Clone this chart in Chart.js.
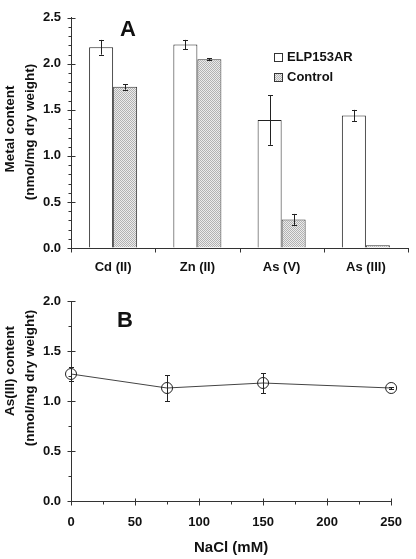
<!DOCTYPE html>
<html><head><meta charset="utf-8">
<script src="https://cdn.jsdelivr.net/npm/chart.js@4/dist/chart.umd.min.js"></script>
<style>
html,body{margin:0;padding:0;background:#fff;width:416px;height:559px;overflow:hidden}
canvas{position:absolute;left:0}
#a{top:0}#b{top:280px}
</style></head>
<body>
<canvas id="a" width="416" height="280"></canvas>
<canvas id="b" width="416" height="279"></canvas>
<script>
// ---- data ----
const metals = ['Cd (II)', 'Zn (II)', 'As (V)', 'As (III)'];
const elpValues = [2.18, 2.21, 1.39, 1.44];
const elpErrors = [0.08, 0.05, 0.27, 0.06];
const controlValues = [1.75, 2.05, 0.31, 0.03];
const controlErrors = [0.03, 0.01, 0.06, 0];
const naclConc = [0, 75, 150, 250];
const asValues = [1.27, 1.13, 1.18, 1.13];
const asErrors = [0.07, 0.13, 0.10, 0.01];

const FONT = "'Liberation Sans', Arial, sans-serif";
const INK = '#111';

function makePattern(ctx) {
  const c = document.createElement('canvas'); c.width = 2; c.height = 2;
  const x = c.getContext('2d');
  x.fillStyle = '#ececec'; x.fillRect(0, 0, 2, 2);
  x.fillStyle = '#b2b2b2'; x.fillRect(0, 0, 1, 1); x.fillRect(1, 1, 1, 1);
  return ctx.createPattern(c, 'repeat');
}

// error bars plugin
const errorBars = {
  id: 'errorBars',
  afterDatasetsDraw(chart) {
    const ctx = chart.ctx; const ys = chart.scales.y;
    ctx.save(); ctx.strokeStyle = '#222'; ctx.lineWidth = 1;
    chart.data.datasets.forEach((ds, di) => {
      if (!ds.errors) return;
      const meta = chart.getDatasetMeta(di);
      meta.data.forEach((el, i) => {
        const v = typeof ds.data[i] === 'object' ? ds.data[i].y : ds.data[i];
        const e = ds.errors[i]; if (!e) return;
        const x = Math.round(el.x) + 0.5;
        const y1 = ys.getPixelForValue(v + e), y2 = ys.getPixelForValue(v - e);
        ctx.beginPath();
        ctx.moveTo(x, y1); ctx.lineTo(x, y2);
        ctx.moveTo(x - 2.5, Math.round(y1) + 0.5); ctx.lineTo(x + 2.5, Math.round(y1) + 0.5);
        ctx.moveTo(x - 2.5, Math.round(y2) + 0.5); ctx.lineTo(x + 2.5, Math.round(y2) + 0.5);
        ctx.stroke();
      });
    });
    ctx.restore();
  }
};

// axis tick marks + decorations
const decor = {
  id: 'decor',
  afterDraw(chart, args, o) {
    const ctx = chart.ctx; const ys = chart.scales.y; const xs = chart.scales.x;
    const ca = chart.chartArea;
    ctx.save(); ctx.strokeStyle = '#333'; ctx.lineWidth = 1;
    const ax = Math.round(ca.left) + 0.5, ay = Math.round(ca.bottom) + 0.5;
    ctx.beginPath();
    for (let v = ys.min; v <= ys.max + 1e-9; v += o.yMinor) {
      const y = Math.round(ys.getPixelForValue(v)) + 0.5;
      const major = Math.abs(v / o.yMajor - Math.round(v / o.yMajor)) < 1e-6;
      if (major) { ctx.moveTo(ax - 4, y); ctx.lineTo(ax + 4, y); }
      else { ctx.moveTo(ax - 3, y); ctx.lineTo(ax, y); }
    }
    if (o.category) {
      const n = chart.data.labels.length;
      for (let i = 0; i <= n; i++) {
        const x = Math.round(xs.getPixelForValue(i - 0.5)) + 0.5;
        ctx.moveTo(x, ay); ctx.lineTo(x, ay + 4);
      }
    } else {
      for (let v = xs.min; v <= xs.max + 1e-9; v += o.xMinor) {
        const x = Math.round(xs.getPixelForValue(v)) + 0.5;
        const major = Math.abs(v / o.xMajor - Math.round(v / o.xMajor)) < 1e-6;
        if (major) { ctx.moveTo(x, ay - 3); ctx.lineTo(x, ay + 4); }
        else { ctx.moveTo(x, ay); ctx.lineTo(x, ay + 3); }
      }
    }
    ctx.stroke();
    ctx.fillStyle = INK; ctx.textAlign = 'center'; ctx.textBaseline = 'middle';
    ctx.font = 'bold 13.5px ' + FONT;
    o.yTitle.forEach((t) => {
      ctx.save(); ctx.translate(t.x, t.y); ctx.rotate(-Math.PI / 2);
      ctx.fillText(t.text, 0, 0); ctx.restore();
    });
    ctx.font = 'bold 22px ' + FONT;
    ctx.fillText(o.letter.text, o.letter.x, o.letter.y);
    if (o.legend) {
      ctx.font = 'bold 13px ' + FONT; ctx.textAlign = 'left';
      chart.data.datasets.forEach((ds, i) => {
        const bx = o.legend.x, by = o.legend.y + i * o.legend.gap;
        ctx.fillStyle = ds.backgroundColor; ctx.fillRect(bx, by, 8, 8);
        ctx.strokeStyle = '#333'; ctx.strokeRect(bx + 0.5, by + 0.5, 8, 8);
        ctx.fillStyle = INK; ctx.fillText(ds.label, bx + 13, by + 4.5);
      });
    }
    ctx.restore();
  }
};

const tickFont = { family: FONT, size: 13, weight: 'bold' };

// ---- Chart A ----
const ctxA = document.getElementById('a').getContext('2d');
const pat = makePattern(ctxA);
new Chart(ctxA, {
  type: 'bar',
  data: {
    labels: metals,
    datasets: [
      { label: 'ELP153AR', data: elpValues, errors: elpErrors, backgroundColor: '#ffffff', borderColor: '#222', borderWidth: 1 },
      { label: 'Control', data: controlValues, errors: controlErrors, backgroundColor: pat, borderColor: '#333', borderWidth: 1 }
    ]
  },
  options: {
    responsive: false, animation: false, devicePixelRatio: 1,
    layout: { padding: { top: 13, right: 8, bottom: 0, left: 0 } },
    datasets: { bar: { categoryPercentage: 0.57, barPercentage: 1.0 } },
    plugins: {
      legend: { display: false }, tooltip: { enabled: false },
      decor: {
        yMinor: 0.1, yMajor: 0.5, category: true,
        yTitle: [{ text: 'Metal content', x: 10, y: 129 }, { text: '(nmol/mg dry weight)', x: 30, y: 132 }],
        letter: { text: 'A', x: 128, y: 30 },
        legend: { x: 274, y: 53, gap: 20 }
      }
    },
    scales: {
      x: {
        grid: { display: true, drawOnChartArea: false, drawTicks: false },
        border: { display: true, color: '#333', width: 1 },
        ticks: { font: tickFont, color: INK, padding: 12, maxRotation: 0 },
        afterFit(s) { s.height = 32; }
      },
      y: {
        min: 0, max: 2.5,
        grid: { display: true, drawOnChartArea: false, drawTicks: false },
        border: { display: true, color: '#333', width: 1 },
        ticks: { stepSize: 0.5, font: tickFont, color: INK, padding: 10, callback: (v) => Number(v).toFixed(1) },
        afterFit(s) { s.width = 71; }
      }
    }
  },
  plugins: [errorBars, decor]
});

// ---- Chart B ----
const ctxB = document.getElementById('b').getContext('2d');
new Chart(ctxB, {
  type: 'line',
  data: {
    datasets: [{
      label: 'As(III)',
      data: naclConc.map((c, i) => ({ x: c, y: asValues[i] })),
      errors: asErrors,
      borderColor: '#444', borderWidth: 1,
      backgroundColor: 'rgba(0,0,0,0)',
      pointRadius: 5.5, pointBorderWidth: 1, pointBorderColor: '#222', pointBackgroundColor: 'rgba(0,0,0,0)',
      tension: 0, clip: false
    }]
  },
  options: {
    responsive: false, animation: false, devicePixelRatio: 1,
    layout: { padding: { top: 21, right: 24, bottom: 0, left: 0 } },
    plugins: {
      legend: { display: false }, tooltip: { enabled: false },
      decor: {
        yMinor: 0.25, yMajor: 0.5, xMinor: 25, xMajor: 50,
        yTitle: [{ text: 'As(III) content', x: 10, y: 91 }, { text: '(nmol/mg dry weight)', x: 30, y: 98 }],
        letter: { text: 'B', x: 125, y: 41 }
      }
    },
    scales: {
      x: {
        type: 'linear', min: 0, max: 250,
        grid: { display: true, drawOnChartArea: false, drawTicks: false },
        border: { display: true, color: '#333', width: 1 },
        ticks: { stepSize: 50, font: tickFont, color: INK, padding: 14, maxRotation: 0 },
        title: { display: true, text: 'NaCl (mM)', font: { family: FONT, size: 15, weight: 'bold' }, color: INK, padding: { top: 0, bottom: 2 } },
        afterFit(s) { s.height = 58; }
      },
      y: {
        min: 0, max: 2,
        grid: { display: true, drawOnChartArea: false, drawTicks: false },
        border: { display: true, color: '#333', width: 1 },
        ticks: { stepSize: 0.5, font: tickFont, color: INK, padding: 10, callback: (v) => Number(v).toFixed(1) },
        afterFit(s) { s.width = 71; }
      }
    }
  },
  plugins: [errorBars, decor]
});
</script>
</body></html>
